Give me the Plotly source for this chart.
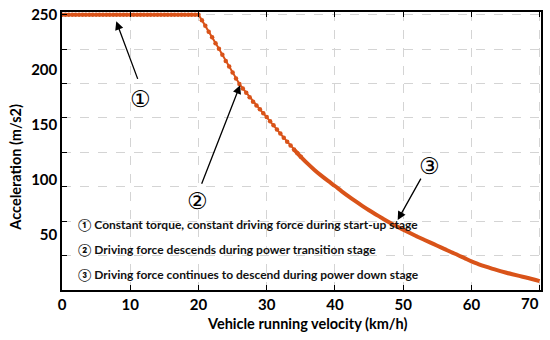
import plotly.graph_objects as go
import numpy as np

# ---- data ----
velocity = [0, 0.5, 1, 1.5, 2, 2.5, 3, 3.5, 4, 4.5, 5, 5.5, 6, 6.5, 7, 7.5, 8, 8.5, 9, 9.5,
            10, 10.5, 11, 11.5, 12, 12.5, 13, 13.5, 14, 14.5, 15, 15.5, 16, 16.5, 17, 17.5,
            18, 18.5, 19, 19.5,
            20, 20.5, 21, 21.5, 22, 22.5, 23, 23.5, 24, 24.5, 25, 25.5, 26, 26.5, 27, 27.5,
            28, 28.5, 29, 29.5, 30, 30.5, 31, 31.5, 32, 32.5, 33, 33.5, 34, 34.5, 35,
            36, 37, 38, 39, 40, 41, 42, 43, 44, 45, 46, 47, 48, 49, 50,
            51, 52, 53, 54, 55, 56, 57, 58, 59, 60, 61, 62, 63, 64, 65, 66, 67, 68, 69, 70]
acceleration = [250] * 40 + [
    250, 245, 240, 234.5, 229.5, 224, 219, 213.5, 208, 203, 197.5, 192, 187, 183, 179, 175,
    171, 167.5, 164, 160.5, 157, 153.2, 149.5, 145.7, 142, 138.3, 134.7, 131.1, 127.5, 124.2, 120.9,
    114.7, 109, 103.8, 99, 94.4, 89.6, 85, 80.6, 76.4, 72.4, 68.6, 64.9, 61.3, 58, 54.8,
    51.7, 48.7, 45.8, 43, 40.2, 37.4, 34.5, 31.8, 28.9, 26, 23.6, 21.4, 19.4, 17.6, 15.9, 14.3,
    12.8, 11.3, 9.8, 8]

x_ticks = [0, 10, 20, 30, 40, 50, 60, 70]
x_ticktext = ["0", "10", "20", "30", "40", "50", "60", ""]
last_x_label = "70"
y_ticks = [50, 100, 150, 200, 250]
y_grid = [0, 31.25, 62.5, 93.75, 125, 156.25, 187.5, 218.75, 250]

notes = ["\u2460 Constant torque, constant driving force during start-up stage",
         "\u2461 Driving force descends during power transition stage",
         "\u2462 Driving force continues to descend during power down stage"]

ORANGE = "#D95319"
FONT = "Lato, 'DejaVu Sans', sans-serif"
X_MAX = 70.2

v = np.array(velocity)
a = np.array(acceleration)
m1 = v <= 35
m2 = v >= 34

fig = go.Figure()
fig.add_trace(go.Scatter(x=v[m2], y=a[m2], mode="lines",
                         line=dict(color=ORANGE, width=4, shape="spline", smoothing=1.0),
                         hoverinfo="skip"))
fig.add_trace(go.Scatter(x=v[m1], y=a[m1], mode="lines+markers",
                         line=dict(color=ORANGE, width=2),
                         marker=dict(color=ORANGE, size=4.5)))

# arrows
arrows = [(7.95, 243.9, 22, 59), (26.1, 185.9, -39, 100), (49.2, 63.5, 24, -43)]
for (xt, yt, ax, ay) in arrows:
    fig.add_annotation(x=xt, y=yt, ax=ax, ay=ay, text="", showarrow=True,
                       arrowhead=2, arrowsize=1.3, arrowwidth=1.3, arrowcolor="black",
                       standoff=0)

# circled numbers
for (xt, yt, t) in [(11.46, 173.2, "\u2460"), (19.8, 80.7, "\u2461"), (53.9, 112.4, "\u2462")]:
    fig.add_annotation(x=xt, y=yt, text=t, showarrow=False,
                       font=dict(family="'DejaVu Sans'", size=23, color="black"))

# notes
for t, yy in zip(notes, [59.8, 37.2, 14.5]):
    fig.add_annotation(x=2.0, y=yy, text=t, showarrow=False, xanchor="left",
                       font=dict(family=FONT, size=12, color="#111", weight="bold"))

# last x tick label, right-aligned to the frame as in the reference
fig.add_annotation(xref="x", yref="paper", x=X_MAX, y=-0.047, xanchor="right",
                   yanchor="middle", text=last_x_label, showarrow=False,
                   font=dict(family=FONT, size=15, color="black", weight="bold"))

# axis titles
fig.add_annotation(xref="paper", yref="paper", x=0.513, y=-0.122,
                   xanchor="center", yanchor="middle",
                   text="Vehicle running velocity (km/h)", showarrow=False,
                   font=dict(family=FONT, size=14.5, color="black", weight="bold"))
fig.add_annotation(xref="paper", yref="paper", x=-0.096, y=0.44, textangle=-90,
                   xanchor="center", yanchor="middle",
                   text="Acceleration (m/s2)", showarrow=False,
                   font=dict(family=FONT, size=14.5, color="black", weight="bold"))

fig.update_layout(
    width=550, height=340,
    margin=dict(l=62, r=8.5, t=11.7, b=50),
    paper_bgcolor="white", plot_bgcolor="white",
    showlegend=False,
    xaxis=dict(range=[0, X_MAX], tickvals=x_ticks, ticktext=x_ticktext,
               ticks="inside", ticklen=5, tickcolor="black", mirror="ticks",
               showline=True, linecolor="black", linewidth=1.5,
               showgrid=True, gridcolor="#d4d4d4", griddash="dash", gridwidth=1,
               zeroline=False, automargin=False,
               tickfont=dict(family=FONT, size=15, color="black", weight="bold")),
    yaxis=dict(range=[0, 252.4], tickvals=y_ticks, ticks="", ticklen=0,
               showline=True, linecolor="black", linewidth=1.5, mirror=True,
               showgrid=False, zeroline=False, automargin=False,
               tickfont=dict(family=FONT, size=15, color="black", weight="bold"),
               minor=dict(tickvals=y_grid, ticks="inside", ticklen=5, tickcolor="black",
                          showgrid=True, gridcolor="#d4d4d4", griddash="dash", gridwidth=1)),
)

fig.write_html("out.html", config={"displayModeBar": False},
               post_script="document.body.style.margin='0';document.body.style.overflow='hidden';")
